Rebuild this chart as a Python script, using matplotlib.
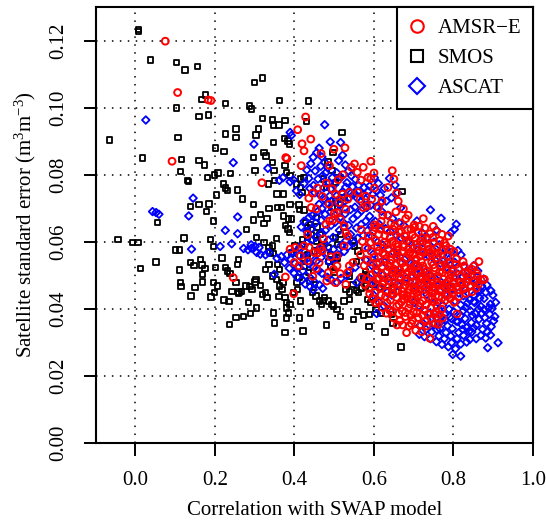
import numpy as np
import matplotlib
matplotlib.use("Agg")
from matplotlib import pyplot as plt
from matplotlib.lines import Line2D

plt.rcParams["font.family"] = "Liberation Serif"
plt.rcParams["mathtext.fontset"] = "custom"
plt.rcParams["mathtext.rm"] = "Liberation Serif"
plt.rcParams["mathtext.it"] = "Liberation Serif:italic"

x_ticks = [0.0, 0.2, 0.4, 0.6, 0.8, 1.0]
x_labels = ["0.0", "0.2", "0.4", "0.6", "0.8", "1.0"]
y_ticks = [0.00, 0.02, 0.04, 0.06, 0.08, 0.10, 0.12]
y_labels = ["0.00", "0.02", "0.04", "0.06", "0.08", "0.10", "0.12"]
names = ["AMSR\u2212E", "SMOS", "ASCAT"]

# (correlation, standard error)
smos_pts = [
    (0.008, 0.1233), (0.007, 0.1226), (0.038, 0.1142), (0.103, 0.1134), (0.125, 0.1112), (0.156, 0.1122),
    (0.176, 0.1038), (0.167, 0.1024), (0.103, 0.0999), (0.227, 0.1013), (0.160, 0.0973), (0.183, 0.0978),
    (0.107, 0.0911), (-0.066, 0.0903), (0.018, 0.0850), (0.116, 0.0845), (0.113, 0.0809), (0.131, 0.0782),
    (0.133, 0.0779), (0.160, 0.0843), (0.173, 0.0829), (0.181, 0.0792), (0.199, 0.0799), (0.208, 0.0805),
    (0.222, 0.0772), (0.227, 0.0760), (0.231, 0.0752), (0.239, 0.0803), (0.256, 0.0754), (0.269, 0.0727),
    (0.185, 0.0713), (0.160, 0.0711), (0.138, 0.0705), (0.204, 0.0739), (0.179, 0.0690), (0.196, 0.0662),
    (0.056, 0.0657), (0.122, 0.0611), (-0.044, 0.0607), (-0.007, 0.0597), (0.006, 0.0597), (0.013, 0.0520),
    (0.052, 0.0540), (0.101, 0.0576), (0.110, 0.0576), (0.110, 0.0516), (0.113, 0.0479), (0.115, 0.0466),
    (0.138, 0.0538), (0.147, 0.0530), (0.140, 0.0438), (0.150, 0.0463), (0.163, 0.0548), (0.167, 0.0531),
    (0.169, 0.0502), (0.169, 0.0480), (0.175, 0.0520), (0.189, 0.0607), (0.197, 0.0586), (0.190, 0.0435),
    (0.196, 0.0478), (0.199, 0.0448), (0.201, 0.0523), (0.206, 0.0468), (0.218, 0.0552), (0.223, 0.0426),
    (0.235, 0.0422), (0.236, 0.0354), (0.227, 0.0524), (0.231, 0.0513), (0.238, 0.0506), (0.227, 0.0921),
    (0.253, 0.0936), (0.253, 0.0911), (0.201, 0.0880), (0.223, 0.0869), (0.257, 0.0533), (0.259, 0.0548),
    (0.253, 0.0478), (0.260, 0.0450), (0.243, 0.0452), (0.259, 0.0446), (0.266, 0.0452), (0.253, 0.0375),
    (0.272, 0.0377), (0.285, 0.0418), (0.289, 0.0386), (0.304, 0.0403), (0.288, 0.0466), (0.293, 0.0458),
    (0.278, 0.0468), (0.303, 0.0488), (0.301, 0.0480), (0.314, 0.0469), (0.319, 0.0443), (0.327, 0.0449),
    (0.331, 0.0433), (0.347, 0.0388), (0.349, 0.0358), (0.361, 0.0436), (0.376, 0.0329), (0.380, 0.0373),
    (0.385, 0.0388), (0.421, 0.0334), (0.440, 0.0388), (0.481, 0.0352), (0.287, 0.1005), (0.292, 0.0996),
    (0.300, 0.1075), (0.319, 0.1088), (0.363, 0.1021), (0.435, 0.1020), (0.310, 0.0936), (0.303, 0.0918),
    (0.319, 0.0968), (0.345, 0.0963), (0.347, 0.0948), (0.361, 0.0948), (0.376, 0.0961), (0.347, 0.0896),
    (0.375, 0.0908), (0.384, 0.0900), (0.387, 0.0891), (0.431, 0.0958), (0.520, 0.0926), (0.297, 0.0851),
    (0.323, 0.0866), (0.328, 0.0856), (0.345, 0.0836), (0.301, 0.0812), (0.348, 0.0812), (0.297, 0.0712),
    (0.314, 0.0682), (0.336, 0.0699), (0.358, 0.0702), (0.367, 0.0702), (0.373, 0.0677), (0.297, 0.0665),
    (0.323, 0.0655), (0.331, 0.0670), (0.323, 0.0597), (0.338, 0.0570), (0.346, 0.0565), (0.355, 0.0609),
    (0.279, 0.0637), (0.305, 0.0612), (0.334, 0.0772), (0.350, 0.0782), (0.376, 0.0827), (0.380, 0.0807),
    (0.389, 0.0797), (0.356, 0.0742), (0.373, 0.0742), (0.389, 0.0712), (0.411, 0.0710), (0.413, 0.0697),
    (0.424, 0.0695), (0.385, 0.0668), (0.378, 0.0648), (0.384, 0.0638), (0.388, 0.0628), (0.393, 0.0668),
    (0.405, 0.0772), (0.415, 0.0787), (0.415, 0.0762), (0.419, 0.0747), (0.424, 0.0792), (0.428, 0.0657),
    (0.441, 0.0652), (0.433, 0.0642), (0.433, 0.0612), (0.442, 0.0622), (0.455, 0.0602), (0.420, 0.0592),
    (0.424, 0.0552), (0.433, 0.0562), (0.450, 0.0572), (0.456, 0.0672), (0.457, 0.0644), (0.464, 0.0622),
    (0.468, 0.0592), (0.473, 0.0787), (0.481, 0.0762), (0.494, 0.0812), (0.512, 0.0792), (0.503, 0.0777),
    (0.484, 0.0838), (0.497, 0.0866), (0.503, 0.0722), (0.516, 0.0712), (0.525, 0.0732), (0.494, 0.0702),
    (0.503, 0.0612), (0.516, 0.0622), (0.525, 0.0642), (0.508, 0.0592), (0.485, 0.0582), (0.490, 0.0562),
    (0.508, 0.0552), (0.485, 0.0542), (0.547, 0.0602), (0.551, 0.0587), (0.560, 0.0572), (0.556, 0.0542),
    (0.578, 0.0512), (0.573, 0.0495), (0.569, 0.0462), (0.580, 0.0502), (0.670, 0.0749), (0.668, 0.0286),
    (0.628, 0.0331), (0.587, 0.0347), (0.549, 0.0369), (0.558, 0.0392), (0.574, 0.0382), (0.589, 0.0384),
    (0.516, 0.0378), (0.507, 0.0398), (0.498, 0.0408), (0.494, 0.0413), (0.485, 0.0423), (0.476, 0.0433),
    (0.525, 0.0423), (0.538, 0.0428), (0.538, 0.0450), (0.556, 0.0455), (0.583, 0.0428), (0.591, 0.0418),
    (0.605, 0.0398), (0.618, 0.0388), (0.644, 0.0383), (0.648, 0.0358), (0.397, 0.0448), (0.408, 0.0458),
    (0.415, 0.0423), (0.413, 0.0373), (0.445, 0.0448), (0.454, 0.0438), (0.463, 0.0423), (0.468, 0.0413),
    (0.472, 0.0424), (0.380, 0.0418), (0.389, 0.0413), (0.406, 0.0478), (0.411, 0.0493), (0.362, 0.0468),
    (0.371, 0.0478), (0.327, 0.0518), (0.336, 0.0533), (0.345, 0.0498), (0.355, 0.0488), (0.358, 0.0533),
    (0.362, 0.0518), (0.336, 0.0582), (0.345, 0.0587), (0.392, 0.0567), (0.401, 0.0587), (0.420, 0.0607),
    (0.424, 0.0527), (0.435, 0.0508), (0.439, 0.0483), (0.450, 0.0473), (0.490, 0.0527), (0.499, 0.0508),
    (0.503, 0.0547), (0.538, 0.0498), (0.530, 0.0458), (0.547, 0.0473), (0.561, 0.0448), (0.578, 0.0468),
    (0.596, 0.0473), (0.614, 0.0463), (0.631, 0.0453), (0.649, 0.0463), (0.376, 0.0433), (0.380, 0.0403),
    (0.369, 0.0458),
]

ascat_pts = [
    (0.026, 0.0963), (0.043, 0.0690), (0.052, 0.0687), (0.059, 0.0682), (0.145, 0.0730), (0.134, 0.0677),
    (0.141, 0.0578), (0.226, 0.0634), (0.246, 0.0836), (0.257, 0.0674), (0.257, 0.0624), (0.213, 0.0586),
    (0.242, 0.0594), (0.298, 0.0891), (0.333, 0.0819), (0.272, 0.0580), (0.283, 0.0576), (0.292, 0.0581),
    (0.305, 0.0568), (0.314, 0.0563), (0.327, 0.0561), (0.336, 0.0568), (0.291, 0.0591), (0.301, 0.0586),
    (0.311, 0.0583), (0.362, 0.0783), (0.371, 0.0791), (0.389, 0.0779), (0.397, 0.0785), (0.356, 0.0551),
    (0.367, 0.0556), (0.375, 0.0538), (0.349, 0.0503), (0.389, 0.0926), (0.392, 0.0917), (0.476, 0.0949),
    (0.490, 0.0898), (0.516, 0.0896),
    (0.405, 0.0752), (0.413, 0.0741), (0.424, 0.0773), (0.431, 0.0814), (0.441, 0.0833), (0.447, 0.0852),
    (0.456, 0.0866), (0.462, 0.0879), (0.469, 0.0853), (0.476, 0.0837), (0.484, 0.0821), (0.471, 0.0797),
    (0.459, 0.0787), (0.448, 0.0768), (0.439, 0.0759), (0.451, 0.0746), (0.463, 0.0741), (0.474, 0.0761),
    (0.487, 0.0776), (0.495, 0.0791), (0.506, 0.0806), (0.511, 0.0842), (0.521, 0.0858), (0.528, 0.0829),
    (0.536, 0.0811), (0.543, 0.0797), (0.553, 0.0786), (0.561, 0.0768), (0.546, 0.0764), (0.532, 0.0776),
    (0.519, 0.0747), (0.506, 0.0737), (0.493, 0.0721), (0.483, 0.0716), (0.469, 0.0699), (0.459, 0.0691),
    (0.445, 0.0678), (0.437, 0.0673), (0.424, 0.0661), (0.417, 0.0644), (0.431, 0.0631), (0.443, 0.0639),
    (0.453, 0.0656), (0.467, 0.0664), (0.477, 0.0682), (0.491, 0.0689), (0.501, 0.0702), (0.515, 0.0711),
    (0.527, 0.0722), (0.537, 0.0731), (0.551, 0.0744), (0.561, 0.0749), (0.575, 0.0762), (0.586, 0.0751),
    (0.597, 0.0742), (0.579, 0.0727), (0.567, 0.0719), (0.552, 0.0703), (0.541, 0.0696), (0.527, 0.0683),
    (0.516, 0.0674), (0.502, 0.0658), (0.492, 0.0649), (0.478, 0.0634), (0.468, 0.0627), (0.454, 0.0613),
    (0.444, 0.0606), (0.430, 0.0597),
    (0.381, 0.0561), (0.391, 0.0547), (0.401, 0.0536), (0.409, 0.0523), (0.421, 0.0513), (0.429, 0.0499),
    (0.441, 0.0491), (0.451, 0.0479), (0.463, 0.0471), (0.471, 0.0461), (0.387, 0.0521), (0.399, 0.0506),
    (0.407, 0.0494), (0.419, 0.0486), (0.427, 0.0474), (0.439, 0.0466), (0.447, 0.0457), (0.396, 0.0571),
    (0.411, 0.0559), (0.423, 0.0546), (0.437, 0.0534), (0.447, 0.0526), (0.461, 0.0514), (0.469, 0.0506),
    (0.483, 0.0494), (0.493, 0.0486), (0.507, 0.0479), (0.517, 0.0491), (0.531, 0.0499), (0.539, 0.0513),
    (0.553, 0.0524), (0.487, 0.0541), (0.501, 0.0549), (0.511, 0.0561), (0.525, 0.0571), (0.535, 0.0586),
    (0.549, 0.0597), (0.559, 0.0611), (0.573, 0.0619), (0.583, 0.0633), (0.556, 0.0478), (0.566, 0.0493),
    (0.601, 0.0791), (0.611, 0.0774), (0.626, 0.0759), (0.639, 0.0789), (0.653, 0.0769), (0.616, 0.0739),
    (0.631, 0.0721), (0.644, 0.0731), (0.659, 0.0746), (0.667, 0.0701), (0.606, 0.0704), (0.619, 0.0691),
    (0.635, 0.0679), (0.647, 0.0669), (0.663, 0.0657), (0.675, 0.0649), (0.589, 0.0676), (0.603, 0.0661),
    (0.614, 0.0651), (0.629, 0.0639), (0.641, 0.0631), (0.657, 0.0619), (0.669, 0.0611), (0.685, 0.0599),
    (0.595, 0.0616), (0.609, 0.0599), (0.621, 0.0591), (0.637, 0.0577), (0.649, 0.0569), (0.665, 0.0555),
    (0.677, 0.0547), (0.693, 0.0535), (0.585, 0.0581), (0.599, 0.0564), (0.611, 0.0553), (0.627, 0.0539),
    (0.639, 0.0529), (0.655, 0.0515), (0.667, 0.0506), (0.683, 0.0491), (0.579, 0.0546), (0.595, 0.0529),
    (0.607, 0.0516), (0.623, 0.0501), (0.635, 0.0491), (0.651, 0.0477), (0.663, 0.0467), (0.591, 0.0489),
    (0.605, 0.0474), (0.617, 0.0463), (0.633, 0.0449), (0.645, 0.0441), (0.599, 0.0441), (0.613, 0.0419),
    (0.625, 0.0409), (0.641, 0.0397), (0.607, 0.0386),
    (0.708, 0.0662), (0.742, 0.0695), (0.769, 0.0670), (0.757, 0.0635), (0.793, 0.0627), (0.802, 0.0637),
    (0.807, 0.0652), (0.721, 0.0627), (0.734, 0.0613), (0.751, 0.0599), (0.764, 0.0591), (0.781, 0.0577),
    (0.794, 0.0569), (0.811, 0.0574), (0.819, 0.0561), (0.699, 0.0584), (0.711, 0.0576), (0.727, 0.0564),
    (0.739, 0.0556), (0.755, 0.0544), (0.767, 0.0536), (0.783, 0.0524), (0.795, 0.0516), (0.811, 0.0504),
    (0.823, 0.0496), (0.839, 0.0484), (0.701, 0.0534), (0.713, 0.0523), (0.729, 0.0509), (0.741, 0.0499),
    (0.757, 0.0487), (0.769, 0.0479), (0.785, 0.0467), (0.797, 0.0459), (0.813, 0.0447), (0.825, 0.0439),
    (0.841, 0.0427), (0.853, 0.0419), (0.869, 0.0407), (0.689, 0.0481), (0.705, 0.0467), (0.717, 0.0457),
    (0.733, 0.0443), (0.745, 0.0433), (0.761, 0.0419), (0.773, 0.0411), (0.789, 0.0399), (0.801, 0.0391),
    (0.817, 0.0379), (0.829, 0.0371), (0.845, 0.0359), (0.857, 0.0351), (0.873, 0.0339), (0.885, 0.0331),
    (0.701, 0.0419), (0.713, 0.0409), (0.729, 0.0395), (0.741, 0.0387), (0.757, 0.0374), (0.769, 0.0363),
    (0.785, 0.0349), (0.797, 0.0341), (0.813, 0.0329), (0.825, 0.0321), (0.841, 0.0309), (0.715, 0.0349),
    (0.731, 0.0339), (0.745, 0.0331), (0.763, 0.0319), (0.777, 0.0311), (0.795, 0.0299), (0.798, 0.0264),
    (0.818, 0.0259), (0.886, 0.0284), (0.912, 0.0299), (0.771, 0.0294), (0.714, 0.0324),
    (0.851, 0.0529), (0.861, 0.0513), (0.876, 0.0489), (0.884, 0.0471), (0.894, 0.0454), (0.899, 0.0441),
    (0.906, 0.0419), (0.897, 0.0401), (0.891, 0.0384), (0.879, 0.0373), (0.871, 0.0387), (0.863, 0.0399),
    (0.851, 0.0441), (0.867, 0.0454), (0.877, 0.0431), (0.893, 0.0414), (0.904, 0.0377), (0.895, 0.0347),
    (0.883, 0.0357), (0.869, 0.0321), (0.857, 0.0311), (0.846, 0.0331), (0.833, 0.0344), (0.821, 0.0353),
    (0.807, 0.0363), (0.791, 0.0376), (0.777, 0.0384), (0.763, 0.0396), (0.831, 0.0404), (0.843, 0.0394),
    (0.855, 0.0386),
    (0.436, 0.0789), (0.452, 0.0811), (0.466, 0.0825), (0.478, 0.0805), (0.491, 0.0757), (0.502, 0.0772),
    (0.517, 0.0792), (0.529, 0.0763), (0.541, 0.0744), (0.557, 0.0731), (0.571, 0.0741), (0.589, 0.0766),
    (0.606, 0.0752), (0.618, 0.0716), (0.462, 0.0712), (0.476, 0.0726), (0.489, 0.0737), (0.511, 0.0691),
    (0.522, 0.0658), (0.536, 0.0649), (0.547, 0.0668), (0.559, 0.0681), (0.569, 0.0693), (0.582, 0.0702),
    (0.592, 0.0709), (0.541, 0.0622), (0.556, 0.0641), (0.568, 0.0652), (0.579, 0.0661), (0.594, 0.0648),
    (0.529, 0.0603), (0.517, 0.0589), (0.498, 0.0577), (0.481, 0.0567), (0.467, 0.0553), (0.455, 0.0542),
    (0.441, 0.0557), (0.427, 0.0571), (0.413, 0.0584), (0.474, 0.0589), (0.459, 0.0577), (0.497, 0.0613),
    (0.513, 0.0634), (0.485, 0.0605),
    (0.723, 0.0597), (0.747, 0.0577), (0.773, 0.0561), (0.788, 0.0547), (0.803, 0.0539), (0.826, 0.0527),
    (0.837, 0.0512), (0.847, 0.0503), (0.859, 0.0482), (0.871, 0.0468), (0.881, 0.0449), (0.866, 0.0432),
    (0.851, 0.0422), (0.835, 0.0417), (0.818, 0.0412), (0.804, 0.0423), (0.791, 0.0431), (0.778, 0.0443),
    (0.766, 0.0452), (0.749, 0.0463), (0.733, 0.0471), (0.718, 0.0489), (0.706, 0.0502), (0.733, 0.0368),
    (0.749, 0.0355), (0.766, 0.0341), (0.781, 0.0329), (0.793, 0.0319), (0.809, 0.0311), (0.823, 0.0339),
    (0.839, 0.0333), (0.851, 0.0343), (0.864, 0.0369), (0.877, 0.0398), (0.889, 0.0403), (0.901, 0.0364),
    (0.893, 0.0322), (0.881, 0.0313), (0.818, 0.0295), (0.833, 0.0301), (0.805, 0.0281), (0.787, 0.0287),
    (0.757, 0.0302), (0.742, 0.0311), (0.727, 0.0317), (0.758, 0.0338), (0.779, 0.0367), (0.795, 0.0371),
    (0.811, 0.0362), (0.825, 0.0395), (0.847, 0.0381), (0.861, 0.0454), (0.842, 0.0468), (0.822, 0.0469),
    (0.812, 0.0486), (0.829, 0.0457),
]

amsr_pts = [
    (0.075, 0.1198), (0.106, 0.1045), (0.183, 0.1023), (0.190, 0.1021), (0.092, 0.0840), (0.318, 0.0776),
    (0.246, 0.0493), (0.378, 0.0851), (0.381, 0.0848), (0.377, 0.0495), (0.398, 0.0445), (0.428, 0.0972),
    (0.408, 0.0934), (0.441, 0.0906), (0.419, 0.0892), (0.424, 0.0871), (0.417, 0.0827), (0.488, 0.0827),
    (0.527, 0.0880), (0.499, 0.0876), (0.467, 0.0863),
    (0.411, 0.0528), (0.389, 0.0578), (0.402, 0.0583), (0.399, 0.0538), (0.415, 0.0558), (0.424, 0.0588),
    (0.433, 0.0622), (0.437, 0.0583), (0.450, 0.0568), (0.459, 0.0567), (0.455, 0.0520), (0.466, 0.0583),
    (0.473, 0.0609), (0.479, 0.0652), (0.488, 0.0662), (0.496, 0.0664), (0.500, 0.0685), (0.507, 0.0687),
    (0.512, 0.0717), (0.521, 0.0742), (0.534, 0.0727), (0.538, 0.0747), (0.543, 0.0822), (0.551, 0.0832),
    (0.558, 0.0807), (0.573, 0.0822), (0.585, 0.0792), (0.594, 0.0727), (0.582, 0.0707), (0.573, 0.0702),
    (0.565, 0.0727), (0.560, 0.0747), (0.529, 0.0697), (0.516, 0.0667), (0.525, 0.0647), (0.529, 0.0627),
    (0.534, 0.0617), (0.525, 0.0588), (0.507, 0.0558), (0.507, 0.0528), (0.498, 0.0518), (0.485, 0.0508),
    (0.481, 0.0483), (0.503, 0.0478), (0.529, 0.0473), (0.534, 0.0508), (0.538, 0.0528), (0.547, 0.0538),
    (0.434, 0.0543), (0.446, 0.0497), (0.462, 0.0538), (0.470, 0.0573), (0.491, 0.0555), (0.515, 0.0505),
    (0.503, 0.0742), (0.495, 0.0758), (0.480, 0.0775), (0.470, 0.0735), (0.458, 0.0760), (0.445, 0.0745),
    (0.436, 0.0730), (0.442, 0.0702), (0.455, 0.0698), (0.487, 0.0712), (0.510, 0.0785), (0.522, 0.0800),
    (0.592, 0.0840), (0.600, 0.0805), (0.567, 0.0784), (0.580, 0.0736), (0.601, 0.0760), (0.592, 0.0788),
    (0.646, 0.0812), (0.650, 0.0787), (0.635, 0.0762), (0.657, 0.0745), (0.661, 0.0721), (0.674, 0.0698),
    (0.686, 0.0679), (0.724, 0.0669), (0.749, 0.0646), (0.787, 0.0617), (0.635, 0.0679), (0.655, 0.0689),
    (0.622, 0.0679), (0.568, 0.0636), (0.601, 0.0650), (0.643, 0.0655), (0.680, 0.0669), (0.701, 0.0650),
    (0.714, 0.0646), (0.669, 0.0631), (0.611, 0.0702), (0.620, 0.0722),
    (0.603, 0.0642), (0.618, 0.0661), (0.632, 0.0634), (0.652, 0.0648), (0.667, 0.0656), (0.693, 0.0637),
    (0.711, 0.0628), (0.728, 0.0641), (0.741, 0.0624),
    (0.586, 0.0617), (0.604, 0.0604), (0.612, 0.0622), (0.626, 0.0598), (0.641, 0.0614), (0.655, 0.0593),
    (0.665, 0.0609), (0.677, 0.0617), (0.690, 0.0597), (0.703, 0.0612), (0.716, 0.0602), (0.733, 0.0610),
    (0.749, 0.0596), (0.766, 0.0604), (0.781, 0.0588),
    (0.578, 0.0582), (0.593, 0.0571), (0.609, 0.0585), (0.622, 0.0566), (0.636, 0.0579), (0.648, 0.0563),
    (0.661, 0.0586), (0.671, 0.0572), (0.686, 0.0578), (0.698, 0.0561), (0.709, 0.0583), (0.724, 0.0568),
    (0.737, 0.0578), (0.753, 0.0562), (0.771, 0.0575), (0.785, 0.0558), (0.801, 0.0571),
    (0.583, 0.0546), (0.601, 0.0553), (0.614, 0.0538), (0.629, 0.0549), (0.641, 0.0536), (0.656, 0.0556),
    (0.667, 0.0541), (0.681, 0.0551), (0.692, 0.0537), (0.706, 0.0549), (0.719, 0.0541), (0.731, 0.0556),
    (0.745, 0.0539), (0.757, 0.0552), (0.775, 0.0544), (0.789, 0.0536), (0.807, 0.0549), (0.824, 0.0541),
    (0.864, 0.0541),
    (0.590, 0.0521), (0.605, 0.0509), (0.621, 0.0526), (0.633, 0.0512), (0.649, 0.0519), (0.660, 0.0506),
    (0.676, 0.0524), (0.687, 0.0511), (0.701, 0.0527), (0.712, 0.0508), (0.727, 0.0518), (0.738, 0.0504),
    (0.753, 0.0522), (0.765, 0.0510), (0.781, 0.0517), (0.794, 0.0503), (0.813, 0.0521), (0.829, 0.0507),
    (0.846, 0.0518), (0.859, 0.0506),
    (0.581, 0.0489), (0.597, 0.0477), (0.613, 0.0492), (0.625, 0.0481), (0.641, 0.0496), (0.652, 0.0478),
    (0.668, 0.0491), (0.679, 0.0483), (0.694, 0.0497), (0.705, 0.0479), (0.720, 0.0492), (0.731, 0.0484),
    (0.746, 0.0496), (0.758, 0.0477), (0.774, 0.0489), (0.786, 0.0481), (0.803, 0.0494), (0.817, 0.0479),
    (0.837, 0.0489), (0.851, 0.0481), (0.869, 0.0486), (0.877, 0.0488),
    (0.587, 0.0461), (0.602, 0.0449), (0.619, 0.0464), (0.631, 0.0451), (0.647, 0.0467), (0.659, 0.0454),
    (0.674, 0.0462), (0.685, 0.0448), (0.700, 0.0463), (0.713, 0.0452), (0.726, 0.0469), (0.739, 0.0456),
    (0.753, 0.0463), (0.767, 0.0451), (0.779, 0.0466), (0.796, 0.0455), (0.809, 0.0467), (0.825, 0.0459),
    (0.844, 0.0468), (0.857, 0.0461),
    (0.596, 0.0431), (0.611, 0.0423), (0.629, 0.0437), (0.641, 0.0426), (0.657, 0.0434), (0.669, 0.0421),
    (0.684, 0.0436), (0.695, 0.0427), (0.710, 0.0439), (0.723, 0.0424), (0.737, 0.0433), (0.751, 0.0421),
    (0.763, 0.0437), (0.779, 0.0425), (0.792, 0.0431), (0.802, 0.0420),
    (0.621, 0.0404), (0.639, 0.0396), (0.657, 0.0408), (0.671, 0.0393), (0.687, 0.0402), (0.699, 0.0391),
    (0.715, 0.0406), (0.727, 0.0395), (0.743, 0.0403), (0.756, 0.0392), (0.771, 0.0399),
    (0.649, 0.0373), (0.665, 0.0364), (0.679, 0.0377), (0.697, 0.0366), (0.711, 0.0374), (0.729, 0.0362),
    (0.745, 0.0371), (0.773, 0.0373), (0.754, 0.0357), (0.809, 0.0385),
    (0.682, 0.0329), (0.705, 0.0336), (0.720, 0.0332), (0.741, 0.0312), (0.672, 0.0352), (0.688, 0.0349),
    (0.802, 0.0420), (0.877, 0.0488), (0.860, 0.0498), (0.838, 0.0508),
    (0.657, 0.0576), (0.688, 0.0563), (0.716, 0.0557), (0.694, 0.0521), (0.663, 0.0494), (0.722, 0.0489),
    (0.701, 0.0455), (0.675, 0.0441), (0.745, 0.0447), (0.767, 0.0526), (0.736, 0.0587), (0.643, 0.0546),
    (0.612, 0.0573), (0.627, 0.0561), (0.633, 0.0592), (0.646, 0.0601), (0.659, 0.0566), (0.663, 0.0629),
    (0.674, 0.0585), (0.683, 0.0604), (0.691, 0.0569), (0.697, 0.0621), (0.707, 0.0593), (0.718, 0.0571),
    (0.722, 0.0612), (0.733, 0.0594), (0.742, 0.0566), (0.748, 0.0613), (0.759, 0.0583), (0.762, 0.0567),
    (0.777, 0.0597), (0.792, 0.0578),
    (0.607, 0.0534), (0.618, 0.0502), (0.637, 0.0525), (0.646, 0.0508), (0.654, 0.0531), (0.665, 0.0517),
    (0.672, 0.0537), (0.683, 0.0503), (0.696, 0.0512), (0.707, 0.0532), (0.716, 0.0497), (0.723, 0.0528),
    (0.734, 0.0513), (0.744, 0.0487), (0.749, 0.0531), (0.761, 0.0498), (0.772, 0.0508), (0.779, 0.0532),
    (0.791, 0.0491), (0.799, 0.0512), (0.806, 0.0532), (0.819, 0.0497), (0.827, 0.0528), (0.843, 0.0498),
    (0.852, 0.0528),
    (0.593, 0.0501), (0.607, 0.0488), (0.622, 0.0473), (0.636, 0.0484), (0.646, 0.0455), (0.661, 0.0476),
    (0.671, 0.0452), (0.679, 0.0470), (0.689, 0.0459), (0.698, 0.0481), (0.708, 0.0448), (0.717, 0.0474),
    (0.729, 0.0458), (0.735, 0.0477), (0.748, 0.0455), (0.761, 0.0471), (0.769, 0.0459), (0.781, 0.0477),
    (0.792, 0.0467), (0.801, 0.0479), (0.812, 0.0458), (0.821, 0.0473), (0.832, 0.0479), (0.847, 0.0451),
    (0.863, 0.0474),
    (0.604, 0.0418), (0.618, 0.0441), (0.633, 0.0418), (0.649, 0.0444), (0.663, 0.0412), (0.676, 0.0429),
    (0.691, 0.0414), (0.704, 0.0427), (0.716, 0.0417), (0.731, 0.0412), (0.745, 0.0429), (0.758, 0.0409),
    (0.771, 0.0432), (0.786, 0.0441), (0.797, 0.0446), (0.814, 0.0437), (0.831, 0.0446),
    (0.631, 0.0387), (0.647, 0.0392), (0.662, 0.0386), (0.679, 0.0389), (0.693, 0.0381), (0.707, 0.0388),
    (0.722, 0.0381), (0.736, 0.0384), (0.751, 0.0384), (0.765, 0.0383),
    (0.658, 0.0352), (0.694, 0.0356), (0.718, 0.0352), (0.733, 0.0349), (0.762, 0.0354),
    (0.592, 0.0598), (0.598, 0.0633), (0.616, 0.0637), (0.627, 0.0619), (0.648, 0.0637), (0.684, 0.0637),
    (0.702, 0.0643), (0.757, 0.0631), (0.771, 0.0622),
    (0.571, 0.0601), (0.566, 0.0561), (0.575, 0.0529), (0.569, 0.0494), (0.577, 0.0472), (0.589, 0.0445),
]

smos_r, smos_err = np.array(smos_pts).T
ascat_r, ascat_err = np.array(ascat_pts).T
amsr_r, amsr_err = np.array(amsr_pts).T

fig = plt.figure(figsize=(5.46, 5.21), dpi=100)
ax = fig.add_axes([0.1753, 0.1497, 0.8009, 0.8369])

for v in x_ticks[:-1]:
    ax.axvline(v, color="black", lw=1.1, dashes=(1, 4.2), zorder=0.5)
for v in y_ticks[1:]:
    ax.axhline(v, color="black", lw=1.1, dashes=(1, 4.2), zorder=0.5)

ax.scatter(smos_r, smos_err, marker="s", s=15, facecolors="none", edgecolors="black", linewidths=1.3, zorder=2)
ax.scatter(ascat_r, ascat_err, marker="D", s=15, facecolors="none", edgecolors="blue", linewidths=1.3, zorder=3)
ax.scatter(amsr_r, amsr_err, marker="o", s=24, facecolors="none", edgecolors="red", linewidths=1.4, zorder=4)

ax.set_xlim(-0.1, 1.0)
ax.set_ylim(0, 0.13)
ax.set_xticks(x_ticks)
ax.set_xticklabels(x_labels)
ax.set_yticks(y_ticks)
ax.set_yticklabels(y_labels, rotation=90, va="center")
ax.tick_params(direction="out", length=9, width=1.4, labelsize=15)
ax.tick_params(axis="x", pad=11)
ax.tick_params(axis="y", pad=11)
for sp in ax.spines.values():
    sp.set_linewidth(1.5)

ax.set_xlabel("Correlation with SWAP model", fontsize=15, labelpad=8)
ax.set_ylabel("Satellite standard error (m$^{3}$m$^{-3}$)", fontsize=15, labelpad=8)

handles = [
    Line2D([], [], ls="none", marker="o", ms=9, mfc="none", mec="red", mew=1.5, label=names[0]),
    Line2D([], [], ls="none", marker="s", ms=8, mfc="none", mec="black", mew=1.5, label=names[1]),
    Line2D([], [], ls="none", marker="D", ms=8, mfc="none", mec="blue", mew=1.5, label=names[2]),
]
leg = ax.legend(handles=handles, loc="upper right", borderaxespad=0, fancybox=False,
                edgecolor="black", framealpha=1, fontsize=15, handlelength=0.8,
                handletextpad=0.6, labelspacing=0.5, borderpad=0.55)
leg.get_frame().set_linewidth(1.5)
leg.set_zorder(10)

fig.savefig("out.png", dpi=100)
